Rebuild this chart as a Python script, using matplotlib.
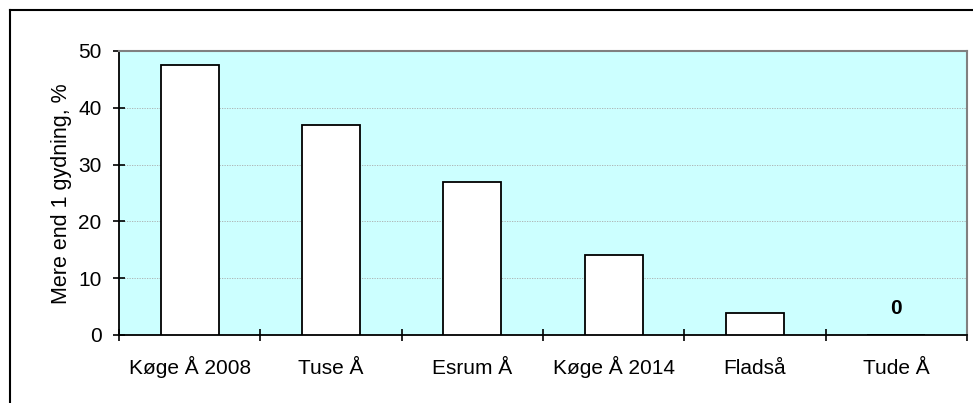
import matplotlib
matplotlib.use("Agg")
import matplotlib.pyplot as plt
from matplotlib.lines import Line2D
import numpy as np

# data
rivers = ["Køge Å 2008", "Tuse Å", "Esrum Å", "Køge Å 2014", "Fladså", "Tude Å"]
values = [47.5, 37, 27, 14, 3.8, 0]
zero_label = "0"

plt.rcParams['font.family'] = ['Liberation Sans', 'DejaVu Sans']

W, H = 973, 403
fig = plt.figure(figsize=(W / 100, H / 100), dpi=100)
ax = fig.add_axes([119 / W, 1 - 335 / H, (967 - 119) / W, (335 - 51) / H])
ax.set_facecolor('#CCFFFF')

x = np.arange(len(rivers))
ax.bar(x, values, width=0.41, color='white', edgecolor='black', linewidth=1.3, zorder=3)

# label for the empty bar
ax.annotate(zero_label, (x[-1], 0), xytext=(0, 27), textcoords='offset pixels',
            ha='center', va='center', fontsize=15, fontweight='bold', zorder=4)

ax.set_xlim(-0.5, len(rivers) - 0.5)
ax.set_ylim(0, 50)
ax.set_yticks(range(0, 51, 10))
ax.yaxis.grid(True, color='#AAAAAA', linestyle=(0, (1.5, 1.5)), linewidth=0.6, zorder=1)

# category boundaries as major ticks, names on minor ticks
ax.set_xticks(np.arange(-0.5, len(rivers), 1.0))
ax.set_xticklabels([])
ax.set_xticks(x, minor=True)
ax.set_xticklabels(rivers, minor=True, va='baseline')
ax.tick_params(axis='x', which='major', direction='inout', length=8.6, width=1.2)
ax.tick_params(axis='x', which='minor', length=0, pad=28, labelsize=15)
ax.tick_params(axis='y', direction='inout', length=8, width=1.2, pad=8.6, labelsize=15)

for side in ['left', 'bottom']:
    ax.spines[side].set_linewidth(1.3)
    ax.spines[side].set_color('black')
for side in ['top', 'right']:
    ax.spines[side].set_linewidth(1.5)
    ax.spines[side].set_color('#808080')

ax.set_ylabel("Mere end 1 gydning, %", fontsize=15.5)
ax.yaxis.set_label_coords(-(119 - 62) / (967 - 119), (335 - 194) / (335 - 51))
ax.yaxis.label.set_va('center')

# outer chart frame (only left and top are visible)
fx = 9.5 / W
fy = 1 - 10 / H
fig.add_artist(Line2D([fx, fx], [0, fy], color='black', linewidth=1.5))
fig.add_artist(Line2D([fx, 1], [fy, fy], color='black', linewidth=1.5))

fig.savefig("out.png", dpi=100)
